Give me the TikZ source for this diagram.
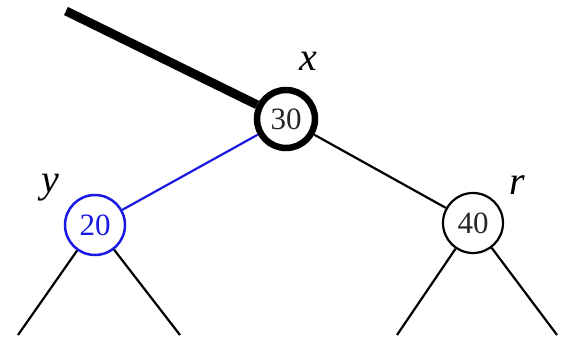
\documentclass[tikz,border=0pt]{standalone}
\usepackage{fontspec}
\setmainfont{Liberation Serif}
\begin{document}
\begin{tikzpicture}[x=1pt,y=1pt,
  treenode/.style={circle,draw,minimum size=60pt,inner sep=0pt,fill=white,text=black!85,font=\fontsize{31}{31}\selectfont},
  lbl/.style={inner sep=0pt,font=\fontsize{40}{40}\selectfont\itshape},
  edge/.style={line width=2.2pt}]
\useasboundingbox (0,0) rectangle (570,337);
\definecolor{tblue}{RGB}{25,25,225}
\coordinate (top) at (66,326);
\coordinate (l1) at (18,2);
\coordinate (l2) at (180,2);
\coordinate (l3) at (397,2);
\coordinate (l4) at (557,2);
\node[treenode,line width=6.5pt,minimum size=58pt] (x) at (286,218) {30};
\node[treenode,draw=tblue,text=tblue,line width=2.5pt] (y) at (95,112) {20};
\node[treenode,line width=2.2pt] (r) at (473,114) {40};
\draw[line width=9pt] (top) -- (x);
\draw[edge,tblue] (x) -- (y);
\draw[edge] (x) -- (r);
\draw[edge] (y) -- (l1);
\draw[edge] (y) -- (l2);
\draw[edge] (r) -- (l3);
\draw[edge] (r) -- (l4);
\node[lbl] (xl) at (308,276) {x};
\node[lbl] (yl) at (50,149) {y};
\node[lbl] (rl) at (517,152) {r};
\end{tikzpicture}
\end{document}
